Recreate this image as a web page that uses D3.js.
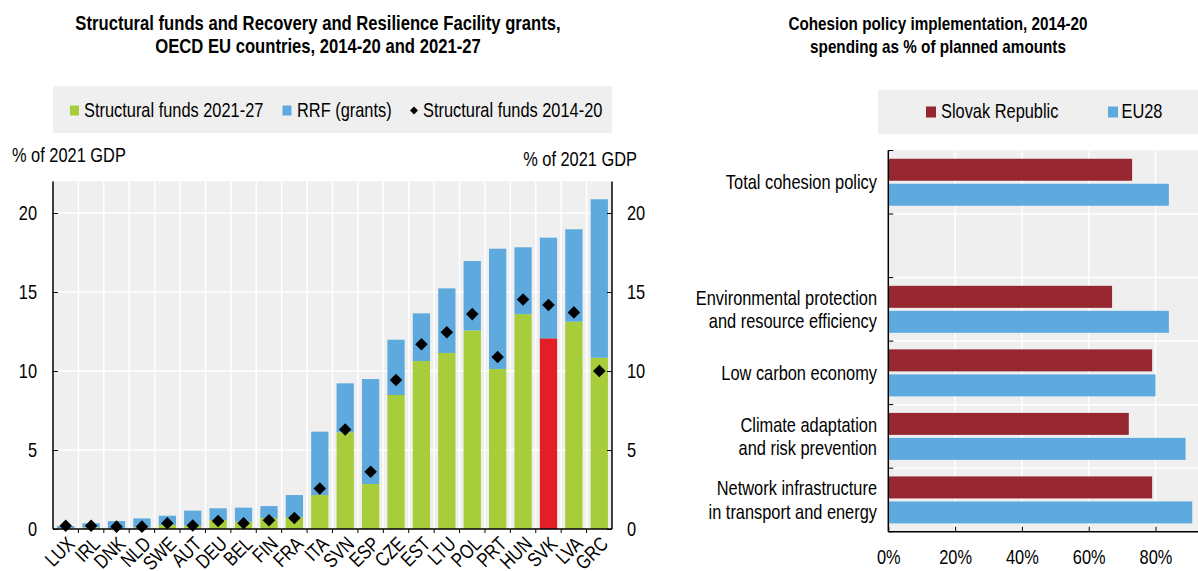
<!DOCTYPE html>
<html><head><meta charset="utf-8">
<script src="https://cdn.jsdelivr.net/npm/d3@7"></script>
<style>
body{margin:0;background:#fff;}
svg{display:block;font-family:"Liberation Sans Narrow","Arial Narrow","Liberation Sans",Arial,sans-serif;}
</style></head><body>
<svg id="c" width="1198" height="571"></svg>
<script>
// ---- Left chart data ----
const countries = ["LUX","IRL","DNK","NLD","SWE","AUT","DEU","BEL","FIN","FRA","ITA","SVN","ESP","CZE","EST","LTU","POL","PRT","HUN","SVK","LVA","GRC"];
const sf2127 = [0.05,0.1,0.05,0.1,0.25,0.2,0.57,0.46,0.7,0.75,2.15,6.12,2.85,8.48,10.63,11.14,12.57,10.13,13.6,12.07,13.12,10.84];
const rrfGrants = [0.14,0.26,0.45,0.57,0.59,0.96,0.74,0.89,0.75,1.4,4.01,3.1,6.64,3.5,3.02,4.09,4.39,7.61,4.23,6.37,5.85,10.03];
const sf1420 = [0.2,0.2,0.15,0.15,0.36,0.22,0.5,0.36,0.55,0.7,2.57,6.3,3.63,9.43,11.7,12.45,13.6,10.89,14.53,14.18,13.71,10.0];
const leftTicks = [0,5,10,15,20];
const leftLegend = ["Structural funds 2021-27","RRF (grants)","Structural funds 2014-20"];
const highlight = "SVK";

// ---- Right chart data ----
const policyCats = ["Total cohesion policy","","Environmental protection|and resource efficiency","Low carbon economy","Climate adaptation|and risk prevention","Network infrastructure|in transport and energy"];
const slovakVals = [73,null,67,79,72,79];
const eu28Vals = [84,null,84,80,89,91];
const rightSeries = ["Slovak Republic","EU28"];
const pctTicks = [0,20,40,60,80];

const GREEN="#a7cd3a", BLUE="#5eaadf", RED="#e21f26", DRED="#962731", BG="#efefef";
const FS=20, SX=0.82;
const svg = d3.select("#c");

// condense a text horizontally around anchor x
function squeeze(sel, ax){ sel.attr("transform",`translate(${ax},0) scale(${SX},1) translate(${-ax},0)`); }
function txt(g,x,y,s,anchor,size,bold){
  const t=g.append("text").attr("x",x).attr("y",y).attr("font-size",size||FS).attr("text-anchor",anchor||"start").attr("fill","#000").text(s);
  if(bold) t.attr("font-weight","bold");
  squeeze(t,x); return t;
}

// ================= LEFT =================
(function(){
  const L=53, R=612, T=181.4, B=529;
  const x = d3.scaleBand().domain(countries).range([L,R]).paddingInner(0.32).paddingOuter(0.16);
  const y = d3.scaleLinear().domain([0,22]).range([B,T]);
  const g = svg.append("g");
  txt(g,318,30,"Structural funds and Recovery and Resilience Facility grants,","middle",20.3,true);
  txt(g,318,53.5,"OECD EU countries, 2014-20 and 2021-27","middle",20.3,true);
  // legend
  g.append("rect").attr("x",L).attr("y",86).attr("width",R-L).attr("height",47).attr("fill",BG);
  const ly=110;
  g.append("rect").attr("x",70).attr("y",ly-4.5).attr("width",9).attr("height",10).attr("fill",GREEN);
  txt(g,84,ly+7,leftLegend[0]);
  g.append("rect").attr("x",282.5).attr("y",ly-4.5).attr("width",9).attr("height",10).attr("fill",BLUE);
  txt(g,297,ly+7,leftLegend[1]);
  g.append("path").attr("d",d3.symbol(d3.symbolDiamond2 || d3.symbolDiamond,40)).attr("transform",`translate(414,${ly+0.5})`).attr("fill","#000");
  txt(g,423,ly+7,leftLegend[2]);
  // axis labels
  txt(g,12,162,"% of 2021 GDP");
  txt(g,637,166,"% of 2021 GDP","end");
  // plot bg
  g.append("rect").attr("x",L).attr("y",T).attr("width",R-L).attr("height",B-T).attr("fill",BG);
  // grid
  const step = x.step();
  const bounds = countries.map((c,i)=>L+step*i).slice(1);
  g.selectAll(".vg").data(bounds).join("line").attr("x1",d=>d).attr("x2",d=>d).attr("y1",T).attr("y2",B).attr("stroke","#fff").attr("stroke-width",1.5);
  g.selectAll(".hg").data(leftTicks.slice(1)).join("line").attr("x1",L).attr("x2",R).attr("y1",d=>y(d)).attr("y2",d=>y(d)).attr("stroke","#fff").attr("stroke-width",1.5);
  // bars
  const bw = x.bandwidth();
  g.selectAll(".g").data(countries).join("rect").attr("x",d=>x(d)).attr("width",bw)
    .attr("y",(d,i)=>y(sf2127[i])).attr("height",(d,i)=>y(0)-y(sf2127[i])).attr("fill",d=>d===highlight?RED:GREEN);
  g.selectAll(".b").data(countries).join("rect").attr("x",d=>x(d)).attr("width",bw)
    .attr("y",(d,i)=>y(sf2127[i]+rrfGrants[i])).attr("height",(d,i)=>y(sf2127[i])-y(sf2127[i]+rrfGrants[i])).attr("fill",BLUE);
  g.selectAll(".d").data(countries).join("path").attr("d",d3.symbol(d3.symbolDiamond2 || d3.symbolDiamond,100))
    .attr("transform",(d,i)=>`translate(${x(d)+bw/2},${y(sf1420[i])})`).attr("fill","#000");
  // axes
  const ya = g.append("g").attr("transform",`translate(${L},0)`).call(d3.axisLeft(y).tickValues(leftTicks).tickSize(-5).tickPadding(16));
  const yb = g.append("g").attr("transform",`translate(${R},0)`).call(d3.axisRight(y).tickValues(leftTicks).tickSize(-5).tickPadding(15));
  [ya,yb].forEach(a=>{a.select(".domain").attr("d",`M0,${T}V${B}`).attr("stroke","#000").attr("stroke-width",1.5);
    a.selectAll("text").attr("font-size",FS).attr("font-family",null).attr("fill","#000").each(function(){squeeze(d3.select(this),+d3.select(this).attr("x"));});
    a.selectAll("line").attr("stroke","#000");});
  g.append("line").attr("x1",L).attr("x2",R).attr("y1",B).attr("y2",B).attr("stroke","#000").attr("stroke-width",1.5);
  g.selectAll(".xt").data(bounds).join("line").attr("x1",d=>d).attr("x2",d=>d).attr("y1",B).attr("y2",B+4).attr("stroke","#000");
  g.selectAll(".xl").data(countries).join("text").attr("font-size",FS).attr("text-anchor","end")
    .attr("transform",d=>`translate(${x(d)+bw/2},${B+6}) rotate(-45) scale(${SX},1)`).attr("dy","0.72em").text(d=>d);
})();

// ================= RIGHT =================
(function(){
  const L=888.3, T=150.5, B=531.7;
  const x = d3.scaleLinear().domain([0,100]).range([L,L+334]);
  const R = x(100);
  const yb = d3.scaleBand().domain(d3.range(policyCats.length)).range([T,B]);
  const g = svg.append("g");
  txt(g,938,30,"Cohesion policy implementation, 2014-20","middle",18.6,true);
  txt(g,938,53,"spending as % of planned amounts","middle",18.6,true);
  g.append("rect").attr("x",878).attr("y",89.5).attr("width",340).attr("height",45).attr("fill",BG);
  g.append("rect").attr("x",926).attr("y",106.5).attr("width",10).attr("height",11).attr("fill",DRED);
  txt(g,941,118.5,rightSeries[0]);
  g.append("rect").attr("x",1108).attr("y",106.5).attr("width",10).attr("height",11).attr("fill",BLUE);
  txt(g,1121.5,118.5,rightSeries[1]);
  g.append("rect").attr("x",L).attr("y",T).attr("width",R-L).attr("height",B-T).attr("fill",BG);
  g.selectAll(".vg").data(pctTicks.slice(1).concat([100])).join("line").attr("x1",d=>x(d)).attr("x2",d=>x(d)).attr("y1",T).attr("y2",B).attr("stroke","#fff").attr("stroke-width",1.5);
  const hb = d3.range(1,policyCats.length).map(i=>yb(i));
  g.selectAll(".hg").data(hb).join("line").attr("x1",L).attr("x2",R).attr("y1",d=>d).attr("y2",d=>d).attr("stroke","#fff").attr("stroke-width",1.5);
  const bh=22, gap=3, bw=yb.bandwidth();
  policyCats.forEach((c,i)=>{
    if(slovakVals[i]==null) return;
    const y0 = yb(i)+(bw-(2*bh+gap))/2;
    g.append("rect").attr("x",L).attr("y",y0).attr("width",x(slovakVals[i])-L).attr("height",bh).attr("fill",DRED);
    g.append("rect").attr("x",L).attr("y",y0+bh+gap).attr("width",x(eu28Vals[i])-L).attr("height",bh).attr("fill",BLUE);
    const lines=c.split("|");
    const cy=yb(i)+bw/2;
    lines.forEach((ln,k)=>txt(g,877,cy+7+(k-(lines.length-1)/2)*23.5,ln,"end"));
  });
  // axes
  g.append("line").attr("x1",L).attr("x2",L).attr("y1",T).attr("y2",B).attr("stroke","#000").attr("stroke-width",1.5);
  g.append("line").attr("x1",L).attr("x2",R).attr("y1",B).attr("y2",B).attr("stroke","#000").attr("stroke-width",1.5);
  const yt=[T,...hb,B];
  g.selectAll(".yt").data(yt).join("line").attr("x1",L).attr("x2",L+5).attr("y1",d=>d).attr("y2",d=>d).attr("stroke","#000");
  const xa = g.append("g").attr("transform",`translate(0,${B})`).call(d3.axisBottom(x).tickValues(pctTicks).tickFormat(d=>d+"%").tickSize(-5));
  xa.select(".domain").remove();
  xa.selectAll("line").attr("stroke","#000");
  xa.selectAll("text").attr("font-size",FS).attr("font-family",null).attr("fill","#000").attr("y",17.5).attr("dy","0.72em").each(function(){squeeze(d3.select(this),0);});
})();
</script></body></html>
